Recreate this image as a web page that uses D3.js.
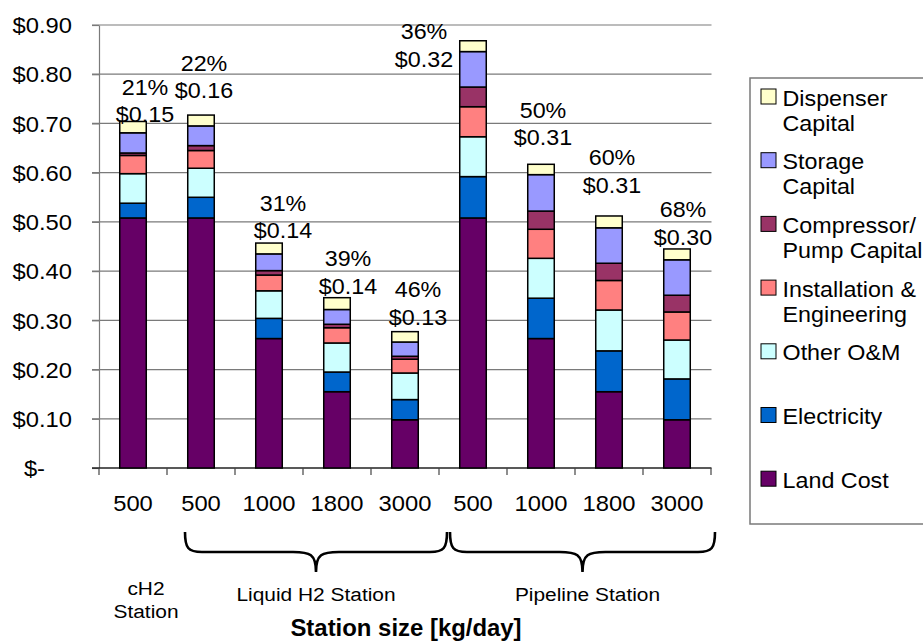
<!DOCTYPE html>
<html>
<head>
<meta charset="utf-8">
<script src="https://cdn.jsdelivr.net/npm/d3@7"></script>
<style>
  html, body { margin: 0; padding: 0; background: #fff; }
  svg { display: block; font-family: "Liberation Sans", Arial, Helvetica, sans-serif; }
</style>
</head>
<body>
<svg id="chart" width="923" height="641"></svg>
<script>
// ---- data ($/kg H2 by station type and size) ----
const stationSizes = ["500", "500", "1000", "1800", "3000", "500", "1000", "1800", "3000"];
const groupLabels  = [["cH2", "Station"], ["Liquid H2 Station"], ["Pipeline Station"]];
const groupSpans   = [[0, 0], [1, 4], [5, 8]];

const seriesNames = ["Land Cost", "Electricity", "Other O&M", "Installation & Engineering",
                     "Compressor/ Pump Capital", "Storage Capital", "Dispenser Capital"];
const landCost     = [0.508, 0.508, 0.263, 0.155, 0.098, 0.508, 0.263, 0.155, 0.098];
const electricity  = [0.030, 0.042, 0.041, 0.040, 0.041, 0.084, 0.082, 0.083, 0.083];
const otherOM      = [0.060, 0.059, 0.056, 0.059, 0.054, 0.081, 0.081, 0.083, 0.079];
const installation = [0.037, 0.036, 0.032, 0.031, 0.028, 0.061, 0.059, 0.060, 0.057];
const compressor   = [0.005, 0.010, 0.009, 0.007, 0.006, 0.040, 0.037, 0.035, 0.034];
const storage      = [0.041, 0.040, 0.034, 0.030, 0.029, 0.072, 0.074, 0.072, 0.072];
const dispenser    = [0.023, 0.022, 0.022, 0.024, 0.021, 0.022, 0.021, 0.024, 0.022];

const sharePct     = [21, 22, 31, 39, 46, 36, 50, 60, 68];
const shareDollar  = [0.15, 0.16, 0.14, 0.14, 0.13, 0.32, 0.31, 0.31, 0.30];

const yTicks = [0, 0.1, 0.2, 0.3, 0.4, 0.5, 0.6, 0.7, 0.8, 0.9];

const legendLines = [["Dispenser", "Capital"], ["Storage", "Capital"], ["Compressor/", "Pump Capital"],
                     ["Installation &", "Engineering"], ["Other O&M"], ["Electricity"], ["Land Cost"]];

// ---- layout / style ----
const colors = ["#660066", "#0066CC", "#CCFFFF", "#FF8080", "#993366", "#9999FF", "#FFFFCC"];
// label placement relative to each bar (dx from bar centre, dy of 2nd line baseline from bar top)
const labelDx = [12, 3, 14, 11, 13, -49, 2, 3, 6];
const labelDy = [1, -17, -5, -4, -7, 26, -19, -23, -4];

const svg = d3.select("#chart");

const x = d3.scaleBand().domain(d3.range(stationSizes.length)).range([99, 711]).padding(0);
const y = d3.scaleLinear().domain([0, 0.9]).range([468, 25]);
const barW = x.bandwidth() * 0.39;

// place a text node at (px, py) with horizontal stretch sx
function placeText(sel, px, py, sx) {
  return sel.attr("transform", `translate(${px},${py}) scale(${sx},1)`).attr("x", 0).attr("y", 0);
}

// gridlines
svg.append("g").selectAll("line")
  .data(yTicks.filter(v => v > 0))
  .join("line")
  .attr("x1", 92).attr("x2", x.range()[1] + 0.5)
  .attr("y1", d => y(d)).attr("y2", d => y(d))
  .attr("stroke", "#7a7a7a").attr("stroke-width", 1.2);

// y axis
const yAxis = svg.append("g").attr("transform", "translate(99,0)")
  .call(d3.axisLeft(y).tickValues(yTicks).tickSize(7).tickSizeOuter(0).tickPadding(20)
    .tickFormat(v => v === 0 ? "$-" : "$" + v.toFixed(2)));
yAxis.attr("font-family", null);
yAxis.select(".domain").attr("stroke", "#7a7a7a").attr("stroke-width", 1.2);
yAxis.selectAll(".tick line").attr("stroke", "#7a7a7a").attr("stroke-width", 1.2);
yAxis.selectAll(".tick text")
  .attr("fill", "#000").attr("font-size", 22)
  .attr("dy", "0.35em")
  .each(function (d) {
    const px = d === 0 ? -54 : -27;
    d3.select(this).attr("transform", `translate(${px},0) scale(1.08,1)`).attr("x", 0);
  });

// x axis line and category boundary ticks
svg.append("line")
  .attr("x1", 92).attr("x2", x.range()[1] + 0.5)
  .attr("y1", y(0)).attr("y2", y(0))
  .attr("stroke", "#222").attr("stroke-width", 1.5);
const boundaries = d3.range(stationSizes.length).map(i => x(i)).concat([x.range()[1]]);
svg.append("g").selectAll("line").data(boundaries).join("line")
  .attr("x1", d => d).attr("x2", d => d)
  .attr("y1", y(0)).attr("y2", y(0) + 7)
  .attr("stroke", "#444").attr("stroke-width", 1.2);

// stacked bars
const rows = stationSizes.map((s, i) => ({
  i,
  s0: landCost[i], s1: electricity[i], s2: otherOM[i], s3: installation[i],
  s4: compressor[i], s5: storage[i], s6: dispenser[i]
}));
const keys = ["s0", "s1", "s2", "s3", "s4", "s5", "s6"];
const stacked = d3.stack().keys(keys)(rows);

svg.append("g").selectAll("g")
  .data(stacked)
  .join("g")
  .attr("fill", (d, k) => colors[k])
  .selectAll("rect")
  .data(d => d)
  .join("rect")
  .attr("x", d => x(d.data.i) + (x.bandwidth() - barW) / 2)
  .attr("y", d => y(d[1]))
  .attr("width", barW)
  .attr("height", d => y(d[0]) - y(d[1]))
  .attr("stroke", "#000").attr("stroke-width", 1.5);

// share labels above bars
const totals = rows.map(r => keys.reduce((a, k) => a + r[k], 0));
const lab = svg.append("g").attr("font-size", 22).attr("fill", "#000").attr("text-anchor", "middle");
rows.forEach((r, i) => {
  const cx = x(i) + x.bandwidth() / 2 + labelDx[i];
  const base = y(totals[i]) + labelDy[i];
  placeText(lab.append("text").text(sharePct[i] + "%"), cx, base - 27.5, 1.06);
  placeText(lab.append("text").text("$" + shareDollar[i].toFixed(2)), cx, base, 1.06);
});

// size tick labels
const xl = svg.append("g").attr("font-size", 22).attr("fill", "#000").attr("text-anchor", "middle");
stationSizes.forEach((s, i) => {
  placeText(xl.append("text").text(s), x(i) + x.bandwidth() / 2, 511, 1.08);
});

// braces under grouped categories
function bracePath(x0, x1, yTop, yMid, yTip) {
  const xc = (x0 + x1) / 2, r = 17, t = 13;
  return `M${x0},${yTop} C${x0},${yMid - 4} ${x0 + 3},${yMid} ${x0 + r},${yMid}` +
         ` L${xc - t - 10},${yMid} C${xc - 6},${yMid} ${xc},${yMid + 2} ${xc},${yTip}` +
         ` C${xc},${yMid + 2} ${xc + 6},${yMid} ${xc + t + 10},${yMid}` +
         ` L${x1 - r},${yMid} C${x1 - 3},${yMid} ${x1},${yMid - 4} ${x1},${yTop}`;
}
const braces = svg.append("g").attr("fill", "none").attr("stroke", "#000").attr("stroke-width", 2.6);
braces.append("path").attr("d", bracePath(x(groupSpans[1][0]) + 18, x(groupSpans[1][1]) + x.bandwidth() + 8, 532, 552, 572));
braces.append("path").attr("d", bracePath(x(groupSpans[2][0]) + 11, x(groupSpans[2][1]) + x.bandwidth() + 4, 532, 552, 572));

// group names
const gl = svg.append("g").attr("font-size", 19).attr("fill", "#000").attr("text-anchor", "middle");
placeText(gl.append("text").text(groupLabels[0][0]), x(0) + x.bandwidth() / 2 + 13, 595, 1.1);
placeText(gl.append("text").text(groupLabels[0][1]), x(0) + x.bandwidth() / 2 + 13, 618, 1.1);
placeText(gl.append("text").text(groupLabels[1][0]), (x(groupSpans[1][0]) + 18 + x(groupSpans[1][1]) + x.bandwidth() + 8) / 2, 601, 1.1);
placeText(gl.append("text").text(groupLabels[2][0]), (x(groupSpans[2][0]) + 11 + x(groupSpans[2][1]) + x.bandwidth() + 4) / 2 + 5, 601, 1.1);

// axis title
placeText(svg.append("text").text("Station size [kg/day]")
  .attr("font-size", 23).attr("font-weight", "bold").attr("text-anchor", "middle"), 406, 636, 1.04);

// legend
const lg = svg.append("g");
lg.append("rect").attr("x", 750).attr("y", 78).attr("width", 220).attr("height", 446)
  .attr("fill", "#fff").attr("stroke", "#7a7a7a").attr("stroke-width", 1.5);
const legendOrder = d3.range(seriesNames.length).reverse();
legendOrder.forEach((k, j) => {
  const top = 89 + 63.7 * j;
  lg.append("rect").attr("x", 761).attr("y", top).attr("width", 15).attr("height", 15)
    .attr("fill", colors[k]).attr("stroke", "#000").attr("stroke-width", 1);
  legendLines[j].forEach((line, li) => {
    placeText(lg.append("text").text(line).attr("font-size", 22).attr("fill", "#000"),
      782.5, top + 16.5 + li * 25, 1.06);
  });
});
</script>
</body>
</html>
